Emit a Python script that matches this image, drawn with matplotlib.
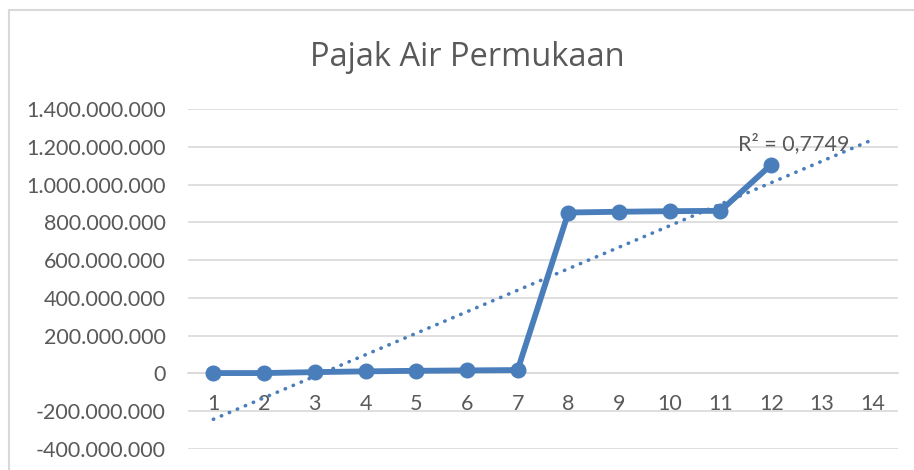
import numpy as np
from matplotlib import pyplot as plt
from matplotlib.patches import Rectangle
from matplotlib.ticker import FuncFormatter, MultipleLocator

# data
periods = np.arange(1, 13)
pajak = np.array([2e6, 2e6, 7e6, 11e6, 14e6, 16e6, 18e6,
                  852e6, 856e6, 859e6, 861e6, 1105e6])
x_labels = [str(i) for i in range(1, 15)]
title = "Pajak Air Permukaan"
r2_label = "R² = 0,7749"

BLUE = "#4A7EBB"
TEXT = "#595959"
GRID = "#D9D9D9"

plt.rcParams["font.family"] = ["Lato", "DejaVu Sans"]

W, H = 914, 470
fig = plt.figure(figsize=(W / 100, H / 100), dpi=100)

# chart border (cut off at right and bottom in the reference)
fig.add_artist(Rectangle((8.5 / W, -0.1), 1.2, 1 - 10.5 / H + 0.1,
                         transform=fig.transFigure, fill=False,
                         edgecolor=GRID, linewidth=1.5))

ax = fig.add_axes((188 / W, 1 - 449 / H, (898 - 188) / W, (449 - 109) / H))

ax.set_xlim(0.5, 14.5)
ax.set_ylim(-400e6, 1400e6)
ax.yaxis.set_major_locator(MultipleLocator(200e6))
ax.yaxis.set_major_formatter(FuncFormatter(lambda v, _: f"{int(round(v)):,}".replace(",", ".")))
ax.set_xticks(range(1, 15))
ax.set_xticklabels(x_labels)

ax.grid(axis="y", color=GRID, linewidth=1.2)
ax.set_axisbelow(True)
for s in ("top", "right", "left"):
    ax.spines[s].set_visible(False)
ax.spines["bottom"].set_position(("data", 0))
ax.spines["bottom"].set_color(GRID)
ax.spines["bottom"].set_linewidth(1.2)
ax.tick_params(axis="x", length=0, pad=15, labelsize=15.5, labelcolor=TEXT)
ax.tick_params(axis="y", length=0, pad=16, labelsize=15.5, labelcolor=TEXT)

# linear trendline, forecast to period 14
coef = np.polyfit(periods, pajak, 1)
tx = np.array([1, 14])
ax.plot(tx, np.polyval(coef, tx), color=BLUE, linewidth=2.6,
        dashes=(0.1, 2.3), dash_capstyle="round", zorder=2)

ax.plot(periods, pajak, color=BLUE, linewidth=4.2, marker="o",
        markersize=10.5, zorder=3)

ax.text(12.44, 1215e6, r2_label, ha="center", va="center",
        fontsize=15.5, color=TEXT)

fig.text(467 / W, 1 - 57 / H, title, ha="center", va="center",
         fontsize=23.5, color=TEXT, family=["Open Sans", "DejaVu Sans"])

fig.savefig("out.png", dpi=100)
